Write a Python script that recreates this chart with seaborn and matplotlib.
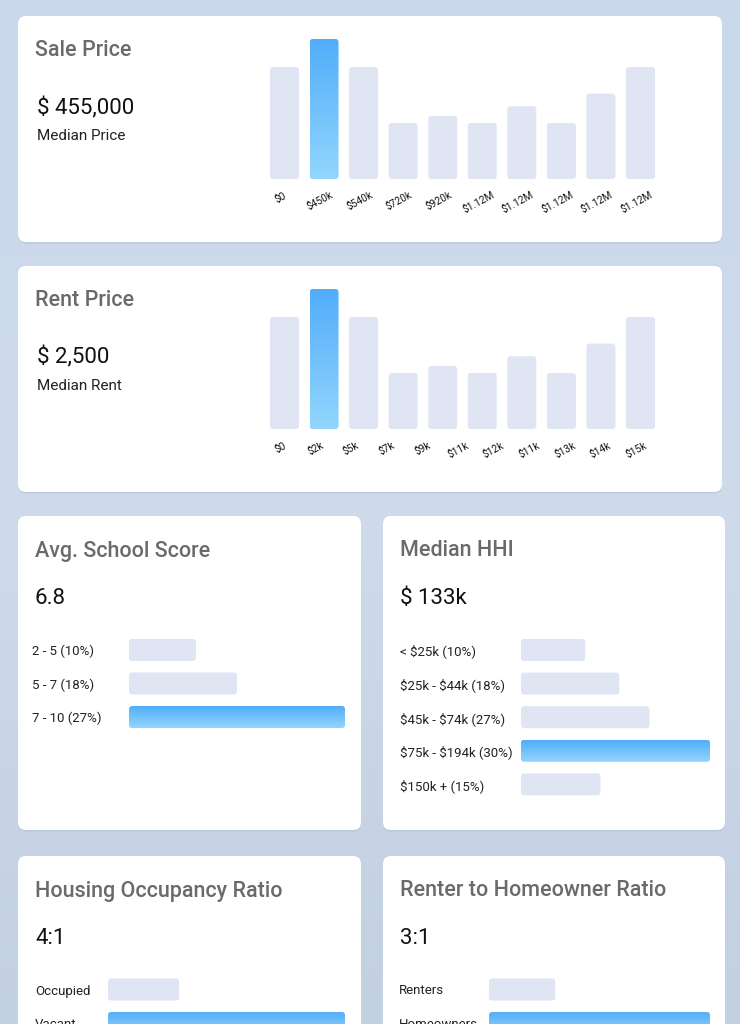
import numpy as np
import matplotlib
matplotlib.use("Agg")
import matplotlib.pyplot as plt
from matplotlib.patches import FancyBboxPatch
import seaborn as sns

# ---- data ----
sale_labels = ["$0", "$450k", "$540k", "$720k", "$920k", "$1.12M", "$1.12M", "$1.12M", "$1.12M", "$1.12M"]
sale_counts = [8, 10, 8, 4, 4.5, 4, 5.2, 4, 6.1, 8]
rent_labels = ["$0", "$2k", "$5k", "$7k", "$9k", "$11k", "$12k", "$11k", "$13k", "$14k", "$15k"]
rent_counts = [8, 10, 8, 4, 4.5, 4, 5.2, 4, 6.1, 8]

school_labels = ["2 - 5 (10%)", "5 - 7 (18%)", "7 - 10 (27%)"]
school_bars = [31, 50, 100]
hhi_labels = ["< $25k (10%)", "$25k - $44k (18%)", "$45k - $74k (27%)", "$75k - $194k (30%)", "$150k + (15%)"]
hhi_bars = [34, 52, 68, 100, 42]
occ_labels = ["Occupied", "Vacant"]
occ_bars = [30, 100]
renter_labels = ["Renters", "Homeowners"]
renter_bars = [30, 100]

W, H = 740, 1024
GREY_BAR = "#e0e5f3"
BLUE_TOP = "#52adfa"
BLUE_BOT = "#92d6fd"
TITLE_C = "#6a6a6a"

sns.set_theme(style="white")
plt.rcParams["font.family"] = ["Roboto", "DejaVu Sans"]
plt.rcParams["text.parse_math"] = False

fig = plt.figure(figsize=(W / 100, H / 100), dpi=100)
fig.patch.set_facecolor("#c8d6ea")

# full-figure axes in pixel coords for cards and text
bg = fig.add_axes([0, 0, 1, 1])
bg.set_xlim(0, W)
bg.set_ylim(H, 0)
bg.axis("off")

grad = np.linspace(0, 1, 256).reshape(-1, 1)
bg.imshow(grad, extent=(0, W, H, 0), cmap=matplotlib.colors.LinearSegmentedColormap.from_list(
    "bgc", ["#c9d8ec", "#cfdaea", "#c3d0e2"]), aspect="auto", zorder=0)

cards = [(18, 16, 722, 242), (18, 266, 722, 492), (18, 516, 361, 830),
         (383, 516, 725, 830), (18, 856, 361, 1040), (383, 856, 725, 1040)]
for x0, y0, x1, y1 in cards:
    sh = FancyBboxPatch((x0, y0 + 1.5), x1 - x0, y1 - y0, boxstyle="round,pad=0,rounding_size=8",
                        fc="#9fb0c8", ec="none", alpha=0.35, zorder=1)
    bg.add_patch(sh)
    bg.add_patch(FancyBboxPatch((x0, y0), x1 - x0, y1 - y0, boxstyle="round,pad=0,rounding_size=8",
                                fc="white", ec="none", zorder=2))

def title(x, y, s):
    bg.text(x, y + 2, s, fontsize=15.5, fontweight="medium", color=TITLE_C, va="center", ha="left", zorder=3)

def value(x, y, s, size=16):
    bg.text(x, y + 1.5, s, fontsize=size, color="#111111", va="center", ha="left", zorder=3)

title(35, 49, "Sale Price")
value(37, 107, "$ 455,000")
bg.text(37, 136, "Median Price", fontsize=11, color="#222222", va="center", zorder=3)
title(35, 299, "Rent Price")
value(37, 356, "$ 2,500")
bg.text(37, 386, "Median Rent", fontsize=11, color="#222222", va="center", zorder=3)
title(35, 549, "Avg. School Score")
value(35, 597, "6.8")
title(400, 549, "Median HHI")
value(400, 597, "$ 133k")
title(35, 889, "Housing Occupancy Ratio")
value(35, 937, "4:1")
title(400, 889, "Renter to Homeowner Ratio")
value(400, 937, "3:1")


def px_axes(x0, y0, x1, y1):
    return fig.add_axes([x0 / W, 1 - y1 / H, (x1 - x0) / W, (y1 - y0) / H])


def style_bars(ax, highlight):
    # round bar corners and fill the highlighted bar with a vertical gradient
    fig.canvas.draw()
    to_px = ax.transData
    for i, p in enumerate(list(ax.patches)):
        (px0, py0), (px1, py1) = to_px.transform([(p.get_x(), p.get_y()),
                                                  (p.get_x() + p.get_width(), p.get_y() + p.get_height())])
        lo, hi = min(px0, px1), max(px0, px1)
        bo, to = min(py0, py1), max(py0, py1)
        p.remove()
        rb = FancyBboxPatch((lo, bo), hi - lo, to - bo, boxstyle="round,pad=0,rounding_size=3",
                            transform=None, fc=GREY_BAR, ec="none", zorder=2)
        fig.add_artist(rb)
        if i == highlight:
            rb.set_facecolor("none")
            cmap = matplotlib.colors.LinearSegmentedColormap.from_list("bl", [BLUE_BOT, BLUE_TOP])
            img_ax = fig.add_axes([lo / W, bo / H, (hi - lo) / W, (to - bo) / H])
            img_ax.axis("off")
            img_ax.imshow(np.linspace(1, 0, 200).reshape(-1, 1), cmap=cmap, aspect="auto",
                          extent=(0, 1, 0, 1))
            img_ax.set_xlim(0, 1)
            img_ax.set_ylim(0, 1)
            clip = FancyBboxPatch((lo, bo), hi - lo, to - bo, boxstyle="round,pad=0,rounding_size=3",
                                  transform=None, fc="none", ec="none")
            img_ax.images[0].set_clip_path(clip)


def vbar(counts, labels, y_top, y_base, tick_pos):
    x0 = 264.7
    step = 39.56
    ax = px_axes(x0, y_top, x0 + step * 10, y_base)
    sns.barplot(x=list(range(len(counts))), y=counts, color=GREY_BAR, width=0.733,
                saturation=1, ax=ax, native_scale=True)
    ax.set_xlim(-0.5, 9.5)
    ax.set_ylim(0, 10)
    ax.set_yticks([])
    ax.set_xticks(tick_pos)
    ax.set_xticklabels(labels, rotation=28, fontsize=7.3, color="#111111", ha="center", va="top")
    ax.tick_params(axis="x", length=0, pad=8)
    ax.set_xlabel("")
    ax.set_facecolor("none")
    sns.despine(ax=ax, left=True, bottom=True)
    style_bars(ax, int(np.argmax(counts)))


vbar(sale_counts, sale_labels, 39, 179, np.arange(10) - 0.1)
vbar(rent_counts, rent_labels, 289, 429, np.linspace(-0.11, 8.89, 11))


def hbar(vals, labels, x_lab, x_start, x_end, y_first, step):
    n = len(vals)
    ax = px_axes(x_start, y_first - step / 2, x_end, y_first + step * (n - 0.5))
    sns.barplot(x=vals, y=list(range(n)), orient="h", color=GREY_BAR, width=22 / step,
                saturation=1, ax=ax, native_scale=True)
    ax.set_xlim(0, 100)
    ax.set_ylim(n - 0.5, -0.5)
    ax.set_xticks([])
    ax.set_yticks(range(n))
    ax.set_yticklabels(labels, fontsize=9.5, color="#222222", ha="left")
    ax.tick_params(axis="y", length=0, pad=(x_start - x_lab) * 0.72)
    ax.set_ylabel("")
    ax.set_facecolor("none")
    sns.despine(ax=ax, left=True, bottom=True)
    style_bars(ax, int(np.argmax(vals)))


hbar(school_bars, school_labels, 32, 129, 345, 650, 33.5)
hbar(hhi_bars, hhi_labels, 400, 521, 710, 650, 33.6)
hbar(occ_bars, occ_labels, 35, 108, 345, 989.5, 33.5)
hbar(renter_bars, renter_labels, 399, 489, 710, 989.5, 33.5)

fig.savefig("out.png", dpi=100, facecolor=fig.get_facecolor())
